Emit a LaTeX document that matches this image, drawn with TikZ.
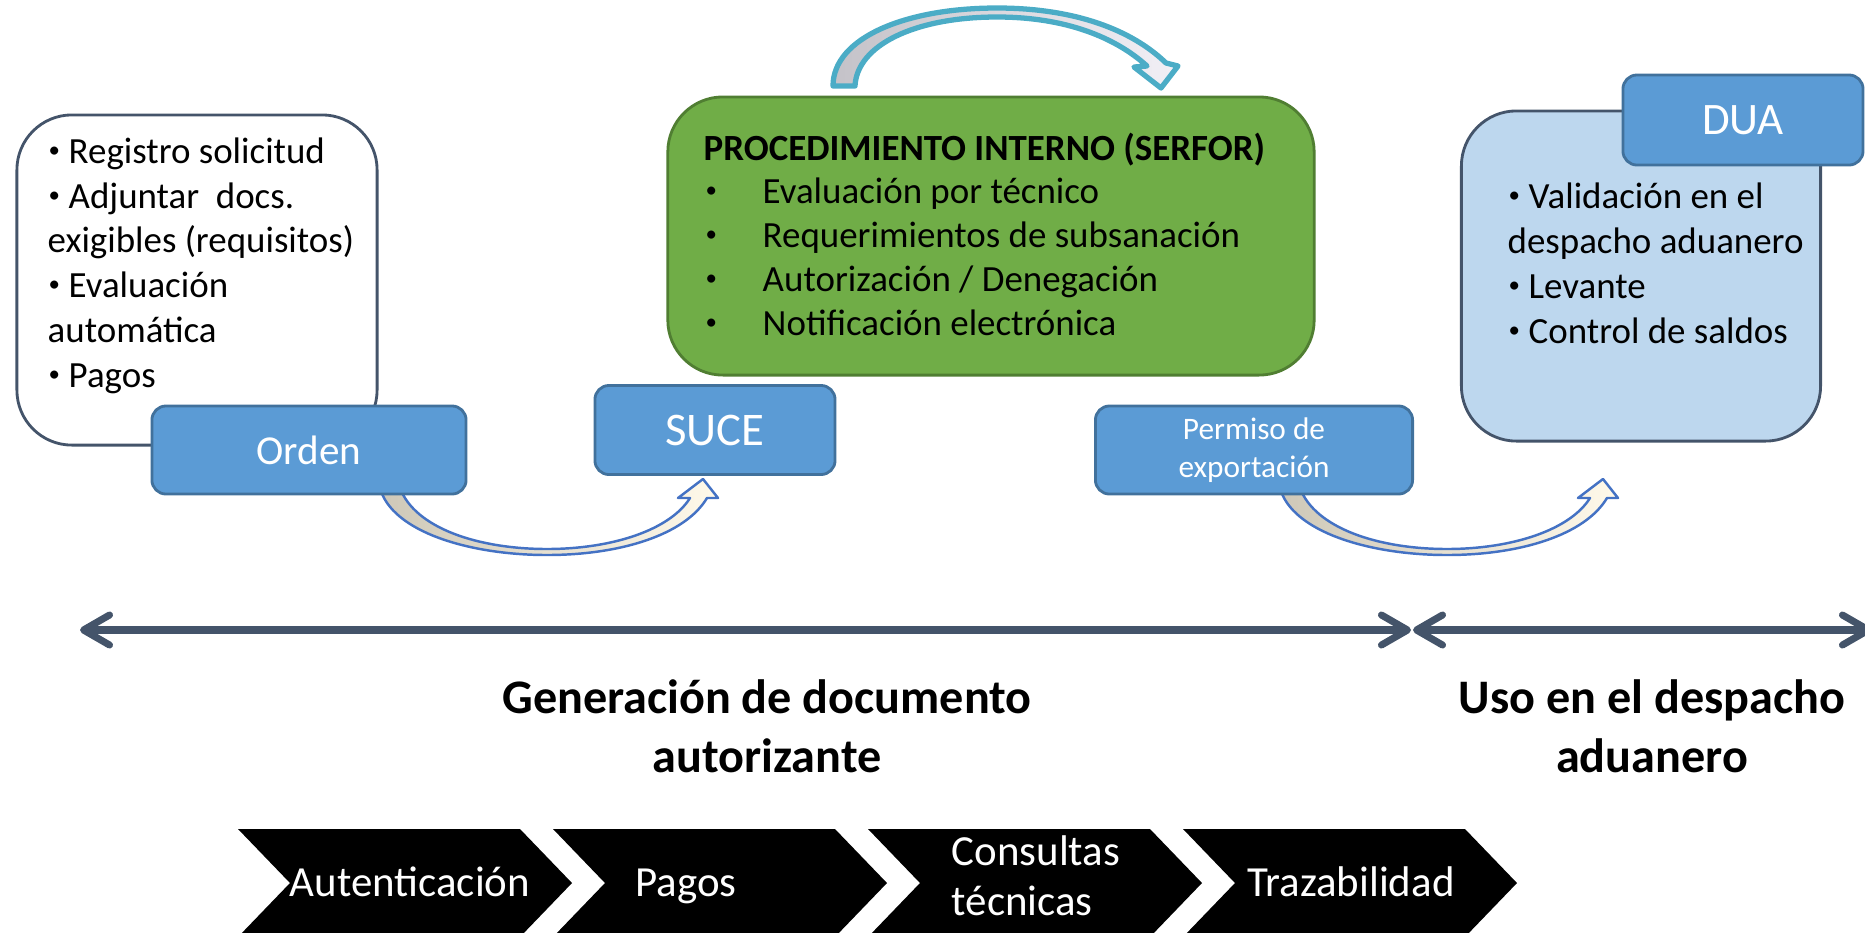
\documentclass[tikz,border=0pt]{standalone}
\usepackage{fontspec}
\setmainfont{Carlito}
\usetikzlibrary{arrows.meta}
\definecolor{bxblue}{HTML}{5B9BD5}
\definecolor{bxline}{HTML}{41719C}
\definecolor{grnfill}{HTML}{70AD47}
\definecolor{grnline}{HTML}{507E32}
\definecolor{ltblue}{HTML}{BDD7EE}
\definecolor{slate}{HTML}{44546A}
\definecolor{tealarrow}{HTML}{4BACC6}
\definecolor{arrblue}{HTML}{4472C4}
\definecolor{tailtan}{HTML}{CEC8B8}
\definecolor{headcream}{HTML}{FFF9EA}
\definecolor{tailgray}{HTML}{C4C2C8}
\definecolor{headlav}{HTML}{F2F0F6}
\newcommand\mybul{\raisebox{0.14em}{\scalebox{0.62}{•}}}
\newcommand\lbul{\makebox[0.2cm][l]{\mybul}}
\newcommand\gbul{\makebox[0.57cm][l]{\mybul}}
\begin{document}
\begin{tikzpicture}[x=0.01cm,y=-0.01cm,
  bodytxt/.style={font=\fontsize{10.5}{12.6}\selectfont, anchor=base west, inner sep=0pt},
  titletxt/.style={font=\bfseries\fontsize{10.5}{12.6}\selectfont, anchor=base west, inner sep=0pt},
  bigbox/.style={draw=slate, line width=0.8pt, rounded corners=0.55cm},
  bluebox/.style={fill=bxblue, draw=bxline, line width=0.8pt, rounded corners=0.14cm, text=white, inner sep=0pt},
  chevtxt/.style={font=\fontsize{12.2}{14.5}\selectfont, text=white, inner sep=0pt},
  labeltxt/.style={font=\bfseries\fontsize{13.7}{16}\selectfont, anchor=base, inner sep=0pt},
  timeline/.style={draw=slate, line width=2pt,
    arrows={Straight Barb[length=0.26cm,width=0.3cm,round]-Straight Barb[length=0.26cm,width=0.3cm,round]}},
  uparrow/.style={draw=arrblue, line width=0.7pt, line join=round, left color=tailtan, right color=headcream},
  toparrow/.style={draw=tealarrow, line width=1.5pt, line join=round, left color=tailgray, right color=headlav}
]
\useasboundingbox (0,0) rectangle (1865,932);

% ---------- left white box ----------
\node[bigbox, fill=white, minimum width=3.6cm, minimum height=3.3cm] (leftbox) at (197,280) {};
\node[bodytxt] (l1) at (48,163) {\lbul Registro solicitud};
\node[bodytxt] (l2) at (48,208) {\lbul Adjuntar\ \ docs.};
\node[bodytxt] (l3) at (47,252) {exigibles (requisitos)};
\node[bodytxt] (l4) at (48,297) {\lbul Evaluación};
\node[bodytxt] (l5) at (47,342) {automática};
\node[bodytxt] (l6) at (48,387) {\lbul Pagos};

% ---------- curved arrows (bottom) ----------
\filldraw[uparrow] (380,488) .. controls (392,532) and (470,555) .. (547,555)
  .. controls (620,555) and (685,535) .. (707,498) -- (718,498) -- (703,479) -- (678,498) -- (690,498)
  .. controls (670,530) and (612,549) .. (547,549) .. controls (478,549) and (415,528) .. (400,488) -- cycle;
\begin{scope}[shift={(900,0)}]
\filldraw[uparrow] (380,488) .. controls (392,532) and (470,555) .. (547,555)
  .. controls (620,555) and (685,535) .. (707,498) -- (718,498) -- (703,479) -- (678,498) -- (690,498)
  .. controls (670,530) and (612,549) .. (547,549) .. controls (478,549) and (415,528) .. (400,488) -- cycle;
\end{scope}

% ---------- blue boxes ----------
\node[bluebox, minimum width=3.14cm, minimum height=0.88cm, font=\fontsize{11.7}{14}\selectfont] (orden) at (309,450) {Orden};
\node[bluebox, minimum width=2.4cm, minimum height=0.89cm, font=\fontsize{13.3}{16}\selectfont] (suce) at (715,430) {SUCE};
\node[bluebox, minimum width=3.17cm, minimum height=0.88cm, align=center, font=\fontsize{8.9}{10.8}\selectfont] (permiso) at (1254,450) {Permiso de\\exportación};

% ---------- green box ----------
\node[bigbox, fill=grnfill, draw=grnline, minimum width=6.46cm, minimum height=2.78cm] (green) at (991,236) {};
\node[titletxt] (gt) at (703,160) {PROCEDIMIENTO INTERNO (SERFOR)};
\node[bodytxt] (g1) at (705,203) {\gbul Evaluación por técnico};
\node[bodytxt] (g2) at (705,247) {\gbul Requerimientos de subsanación};
\node[bodytxt] (g3) at (705,291) {\gbul Autorización / Denegación};
\node[bodytxt] (g4) at (705,335) {\gbul Notificación electrónica};

% ---------- top curved arrow ----------
\filldraw[toparrow] (833,86) .. controls (833,38) and (905,8) .. (997,8)
  .. controls (1075,8) and (1132,30) .. (1166,63) -- (1178,66) -- (1161,88) -- (1134,67) -- (1147,66)
  .. controls (1115,37) and (1065,17) .. (997,17) .. controls (915,17) and (857,45) .. (855,86) -- cycle;

% ---------- right light-blue box ----------
\node[bigbox, fill=ltblue, minimum width=3.59cm, minimum height=3.3cm] (rightbox) at (1641,276) {};
\node[bluebox, minimum width=2.4cm, minimum height=0.9cm, font=\fontsize{12.8}{15}\selectfont] (dua) at (1743,120) {DUA};
\node[bodytxt] (r1) at (1508,208) {\lbul Validación en el};
\node[bodytxt] (r2) at (1507,253) {despacho aduanero};
\node[bodytxt] (r3) at (1508,298) {\lbul Levante};
\node[bodytxt] (r4) at (1508,343) {\lbul Control de saldos};

% ---------- timeline ----------
\coordinate (tA) at (80,630);
\coordinate (tB) at (1411,630);
\coordinate (tC) at (1413,630);
\coordinate (tD) at (1872,630);
\draw[timeline] (tA) -- (tB);
\draw[timeline] (tC) -- (tD);

\node[labeltxt] (lab1) at (767,713) {Generación de documento};
\node[labeltxt] (lab2) at (767,772) {autorizante};
\node[labeltxt] (lab3) at (1652,713) {Uso en el despacho};
\node[labeltxt] (lab4) at (1652,772) {aduanero};

% ---------- chevrons ----------
\foreach \L in {238,553,868,1183}{
  \fill[black] (\L,829) -- (\L+282,829) -- (\L+334,883) -- (\L+282,937) -- (\L,937) -- (\L+52,883) -- cycle;
}
\node[chevtxt, anchor=base] (c1) at (410,896) {Autenticación};
\node[chevtxt, anchor=base] (c2) at (686,896) {Pagos};
\node[chevtxt, anchor=base west] (c3a) at (951,865) {Consultas};
\node[chevtxt, anchor=base west] (c3b) at (951,915) {técnicas};
\node[chevtxt, anchor=base] (c4) at (1351,896) {Trazabilidad};
\end{tikzpicture}
\end{document}
